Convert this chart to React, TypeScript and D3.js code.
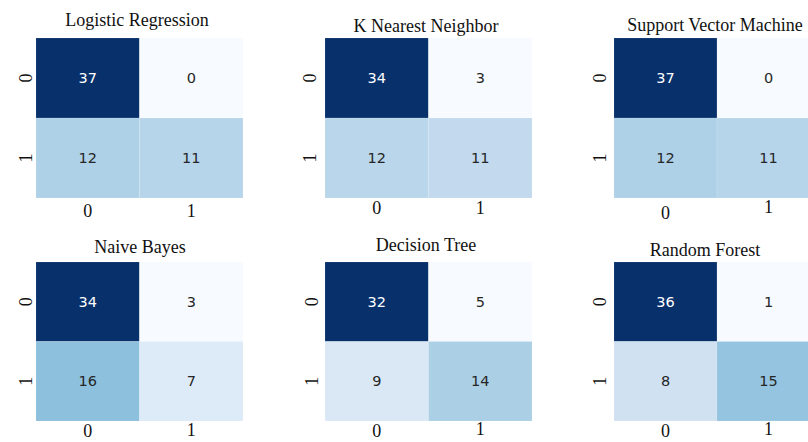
import React from "react";
import * as d3 from "d3";

// Confusion matrices per model: rows = true class, columns = predicted class
const classLabels = ["0", "1"];
const modelNames = [
  "Logistic Regression",
  "K Nearest Neighbor",
  "Support Vector Machine",
  "Naive Bayes",
  "Decision Tree",
  "Random Forest",
];
const logisticRegression = [[37, 0], [12, 11]];
const kNearestNeighbor = [[34, 3], [12, 11]];
const supportVectorMachine = [[37, 0], [12, 11]];
const naiveBayes = [[34, 3], [16, 7]];
const decisionTree = [[32, 5], [9, 14]];
const randomForest = [[36, 1], [8, 15]];
const matrices = [
  logisticRegression,
  kNearestNeighbor,
  supportVectorMachine,
  naiveBayes,
  decisionTree,
  randomForest,
];

const W = 808;
const H = 442;

// Frame of each heatmap in the 2x3 grid, with its title and tick placement
const frames = [
  { x0: 36, x1: 243, y0: 38, y1: 198, tx: 137, ty: 26, yTickX: 26, xt0: 217, xt1: 217 },
  { x0: 325, x1: 532, y0: 38, y1: 198, tx: 426, ty: 32, yTickX: 310, xt0: 214, xt1: 214 },
  { x0: 614, x1: 820, y0: 38, y1: 198, tx: 715, ty: 31, yTickX: 600, xt0: 219, xt1: 213 },
  { x0: 36, x1: 243, y0: 262, y1: 421, tx: 140, ty: 253, yTickX: 26, xt0: 437, xt1: 436 },
  { x0: 325, x1: 532, y0: 262, y1: 421, tx: 426, ty: 251, yTickX: 312, xt0: 437, xt1: 435 },
  { x0: 614, x1: 820, y0: 262, y1: 421, tx: 705, ty: 256, yTickX: 600, xt0: 437, xt1: 435 },
];

// Matplotlib-style "Blues": piecewise-linear RGB through the ColorBrewer stops
const bluesStops = [
  "#f7fbff", "#deebf7", "#c6dbef", "#9ecae1", "#6baed6",
  "#4292c6", "#2171b5", "#08519c", "#08306b",
];
const blues = d3
  .scaleLinear<string>()
  .domain(d3.range(bluesStops.length).map((i) => i / (bluesStops.length - 1)))
  .range(bluesStops)
  .interpolate(d3.interpolateRgb)
  .clamp(true);

const serif = "'Liberation Serif', 'Times New Roman', Times, serif";
const sans = "'DejaVu Sans', Verdana, sans-serif";

function luminance(color: string) {
  const c = d3.rgb(color);
  const lin = (v: number) => {
    const s = v / 255;
    return s <= 0.03928 ? s / 12.92 : Math.pow((s + 0.055) / 1.055, 2.4);
  };
  return 0.2126 * lin(c.r) + 0.7152 * lin(c.g) + 0.0722 * lin(c.b);
}

function Heatmap({ idx }: { idx: number }) {
  const m = matrices[idx];
  const f = frames[idx];
  const flat = m.flat();
  const norm = d3.scaleLinear().domain([d3.min(flat)!, d3.max(flat)!]).range([0, 1]);
  const x = d3.scaleBand<string>().domain(classLabels).range([f.x0, f.x1]);
  const y = d3.scaleBand<string>().domain(classLabels).range([f.y0, f.y1]);

  return (
    <g>
      {m.map((row, r) =>
        row.map((v, c) => {
          const fill = blues(norm(v));
          const textColor = luminance(fill) > 0.408 ? "#262626" : "#ffffff";
          const cx = x(classLabels[c])!;
          const cy = y(classLabels[r])!;
          return (
            <g key={`${r}-${c}`}>
              <rect
                x={cx}
                y={cy}
                width={x.bandwidth()}
                height={y.bandwidth()}
                fill={fill}
                stroke="#ffffff"
                strokeOpacity={0.18}
                strokeWidth={0.6}
              />
              <text
                x={cx + x.bandwidth() / 2}
                y={cy + y.bandwidth() / 2}
                textAnchor="middle"
                dominantBaseline="central"
                fontFamily={sans}
                fontSize={14.5}
                fill={textColor}
              >
                {v}
              </text>
            </g>
          );
        })
      )}
      <text
        x={f.tx}
        y={f.ty}
        textAnchor="middle"
        fontFamily={serif}
        fontSize={18}
        fill="#111111"
      >
        {modelNames[idx]}
      </text>
      {classLabels.map((lab) => {
        const cy = y(lab)! + y.bandwidth() / 2;
        return (
          <text
            key={`y${lab}`}
            transform={`translate(${f.yTickX},${cy}) rotate(-90)`}
            textAnchor="middle"
            dominantBaseline="central"
            fontFamily={serif}
            fontSize={18}
            fill="#111111"
          >
            {lab}
          </text>
        );
      })}
      {classLabels.map((lab, i) => (
        <text
          key={`x${lab}`}
          x={x(lab)! + x.bandwidth() / 2}
          y={i === 0 ? f.xt0 : f.xt1}
          textAnchor="middle"
          fontFamily={serif}
          fontSize={18}
          fill="#111111"
        >
          {lab}
        </text>
      ))}
    </g>
  );
}

export default function App() {
  return (
    <div style={{ position: "absolute", left: 0, top: 0 }}>
      <svg width={W} height={H} style={{ display: "block", background: "#ffffff" }}>
        <rect x={0} y={0} width={W} height={H} fill="#ffffff" />
        {matrices.map((_, i) => (
          <Heatmap key={i} idx={i} />
        ))}
      </svg>
    </div>
  );
}
